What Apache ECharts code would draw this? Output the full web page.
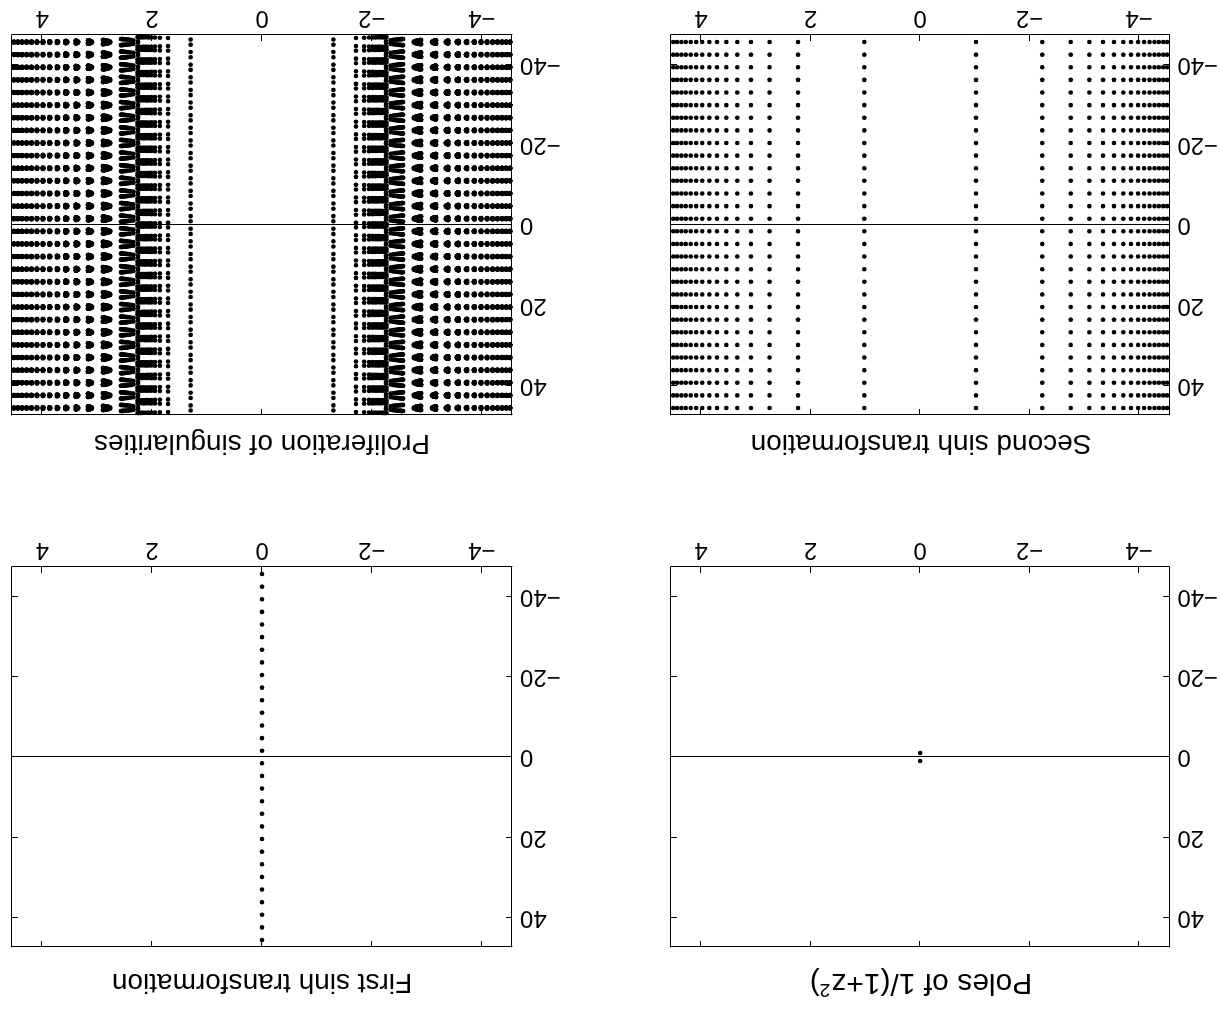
<!DOCTYPE html>
<html>
<head>
<meta charset="utf-8">
<script src="https://cdn.jsdelivr.net/npm/echarts@6/dist/echarts.min.js"></script>
<style>
html,body{margin:0;padding:0;background:#fff;overflow:hidden;}
#wrap{width:1221px;height:1011px;transform:rotate(180deg);transform-origin:50% 50%;}
#chart{width:1221px;height:1011px;}
</style>
</head>
<body>
<div id="wrap"><div id="chart"></div></div>
<script>
// ---------------- data ----------------
const panelTitles = ['Poles of 1/(1+z{sup|2})', 'First sinh transformation', 'Second sinh transformation', 'Proliferation of singularities'];
const xTicks = [-4, -2, 0, 2, 4];
const yTicks = [-40, -20, 0, 20, 40];
const xLimits = [-4.55, 4.55];
const yLimits = [-47.3, 47.3];

// panel 1: the two poles at +-i
const polesX = [0, 0];
const polesY = [1, -1];

// pole rows (imaginary parts, positive half; mirrored below zero)
const rowY = [1.57, 4.71, 7.85, 11.00, 14.14, 17.28, 20.42, 23.56, 26.70, 29.85, 32.99, 36.13, 39.27, 42.41, 45.55];

// panel 3: pole columns (real parts, positive half; mirrored)
const colX = [1.02, 2.23, 2.75, 3.09, 3.34, 3.54, 3.71, 3.85, 3.98, 4.09, 4.19, 4.28, 4.36, 4.44, 4.51];

// panel 4: one repeating cluster (right half, offset above each row centre)
const prolifX = [
  1.299, 1.710, 1.859, 1.948, 2.011, 2.059, 2.097, 2.129, 2.156, 2.180, 2.201, 2.219, 2.236, 2.252, 2.266,
  2.257, 2.339, 2.386, 2.419, 2.445, 2.465, 2.483, 2.498, 2.511, 2.523, 2.534, 2.544, 2.553, 2.561, 2.568,
  2.763, 2.793, 2.812, 2.826, 2.837, 2.847, 2.855, 2.862, 2.868, 2.874, 2.879, 2.884, 2.889, 2.893, 2.897,
  3.095, 3.111, 3.121, 3.129, 3.135, 3.140, 3.145, 3.149, 3.152, 3.155, 3.158, 3.161, 3.164, 3.166, 3.169,
  3.345, 3.354, 3.361, 3.365, 3.369, 3.372, 3.375, 3.378, 3.380, 3.382, 3.384, 3.386, 3.387, 3.389, 3.390,
  3.544, 3.551, 3.555, 3.558, 3.561, 3.563, 3.565, 3.567, 3.568, 3.570, 3.571, 3.572, 3.574, 3.575, 3.576,
  3.711, 3.719, 3.726, 3.734,
  3.854, 3.860, 3.865, 3.871,
  3.979, 3.983, 3.988, 3.992,
  4.090, 4.093, 4.097, 4.101,
  4.190, 4.193, 4.196, 4.199,
  4.281, 4.283, 4.286, 4.288,
  4.364, 4.366, 4.368, 4.370,
  4.441, 4.443, 4.444, 4.446,
  4.512, 4.514, 4.515, 4.517
];
const prolifDy = [
  0.647, 0.988, 1.072, 1.117, 1.145, 1.165, 1.181, 1.194, 1.204, 1.213, 1.220, 1.227, 1.233, 1.238, 1.243,
  0.218, 0.450, 0.536, 0.587, 0.624, 0.652, 0.674, 0.692, 0.708, 0.721, 0.733, 0.743, 0.753, 0.762, 0.769,
  0.130, 0.277, 0.337, 0.375, 0.402, 0.424, 0.441, 0.456, 0.469, 0.480, 0.490, 0.499, 0.507, 0.515, 0.521,
  0.093, 0.200, 0.245, 0.274, 0.295, 0.312, 0.325, 0.337, 0.347, 0.356, 0.364, 0.371, 0.378, 0.384, 0.389,
  0.072, 0.157, 0.192, 0.215, 0.232, 0.246, 0.257, 0.266, 0.274, 0.282, 0.288, 0.294, 0.299, 0.304, 0.309,
  0.059, 0.129, 0.158, 0.177, 0.191, 0.202, 0.211, 0.219, 0.226, 0.232, 0.238, 0.243, 0.247, 0.252, 0.255,
  0.050, 0.134, 0.180, 0.218,
  0.043, 0.116, 0.156, 0.189,
  0.038, 0.103, 0.138, 0.167,
  0.034, 0.092, 0.124, 0.150,
  0.031, 0.083, 0.112, 0.136,
  0.028, 0.076, 0.102, 0.124,
  0.026, 0.070, 0.094, 0.114,
  0.024, 0.065, 0.087, 0.106,
  0.022, 0.060, 0.081, 0.099
];

// ---------------- tables built from the data ----------------
const p1 = polesX.map((x, i) => [x, polesY[i]]);
const p2 = [];
rowY.forEach(r => { p2.push([0, r]); p2.push([0, -r]); });
const p3 = [];
colX.forEach(c => rowY.forEach(r => {
  p3.push([c, r]); p3.push([c, -r]); p3.push([-c, r]); p3.push([-c, -r]);
}));
const p4 = [];
rowY.forEach(r => [r, -r].forEach(rc => prolifX.forEach((x, i) => {
  const d = prolifDy[i];
  p4.push([x, rc + d]); p4.push([x, rc - d]); p4.push([-x, rc + d]); p4.push([-x, rc - d]);
})));

// ---------------- layout ----------------
const grids = [
  {left: 50,  top: 64,  width: 500, height: 380},
  {left: 709, top: 64,  width: 500, height: 380},
  {left: 50,  top: 596, width: 500, height: 380},
  {left: 709, top: 596, width: 500, height: 380}
];
const titleGap = [35, 35, 28, 28];
const titleSize = [30, 28, 28, 28];
const FONT = '"Liberation Sans", Arial, Helvetica, sans-serif';
const fmt = v => String(v).replace('-', '\u2212');

const xAxes = [], yAxes = [], series = [], graphics = [];
const sets = [p1, p2, p3, p4];
grids.forEach((g, gi) => {
  const common = {
    type: 'value', gridIndex: gi, splitLine: {show: false},
    axisLine: {onZero: false, lineStyle: {color: '#000', width: 1}},
  };
  const tick = {inside: true, length: 6, lineStyle: {color: '#000', width: 1}};
  xAxes.push(Object.assign({}, common, {
    position: 'bottom', min: xLimits[0], max: xLimits[1],
    axisTick: Object.assign({}, tick, {customValues: xTicks}),
    axisLabel: {customValues: xTicks, formatter: fmt, color: '#000', fontSize: 24, fontFamily: FONT, margin: 5}
  }));
  xAxes.push(Object.assign({}, common, {
    position: 'top', min: xLimits[0], max: xLimits[1],
    axisTick: Object.assign({}, tick, {customValues: xTicks}),
    axisLabel: {show: false}
  }));
  yAxes.push(Object.assign({}, common, {
    position: 'left', min: yLimits[0], max: yLimits[1],
    axisTick: Object.assign({}, tick, {customValues: yTicks}),
    axisLabel: {customValues: yTicks, formatter: fmt, color: '#000', fontSize: 24, fontFamily: FONT, margin: 8}
  }));
  yAxes.push(Object.assign({}, common, {
    position: 'right', min: yLimits[0], max: yLimits[1],
    axisTick: Object.assign({}, tick, {customValues: yTicks}),
    axisLabel: {show: false}
  }));
  series.push({
    type: 'scatter', xAxisIndex: gi * 2, yAxisIndex: gi * 2,
    data: sets[gi], symbol: 'circle', symbolSize: 4.6,
    itemStyle: {color: '#000', opacity: 1},
    silent: true, clip: true, progressive: 0,
    markLine: {
      silent: true, symbol: 'none', animation: false,
      label: {show: false},
      lineStyle: {color: '#000', width: 1.2, type: 'solid'},
      data: [{yAxis: 0}]
    }
  });
  graphics.push({
    type: 'text', x: g.left + g.width / 2, y: g.top - titleGap[gi],
    style: {
      text: panelTitles[gi], fill: '#000', fontSize: titleSize[gi], fontFamily: FONT,
      align: 'center', verticalAlign: 'middle',
      rich: {sup: {fontSize: 19, fontFamily: FONT, fill: '#000', verticalAlign: 'top', padding: [0, 0, 14, 1]}}
    }
  });
});

const chart = echarts.init(document.getElementById('chart'), null, {renderer: 'canvas'});
chart.setOption({
  animation: false,
  backgroundColor: '#fff',
  grid: grids.map(g => Object.assign({containLabel: false}, g)),
  xAxis: xAxes,
  yAxis: yAxes,
  series: series,
  graphic: graphics
});
</script>
</body>
</html>
